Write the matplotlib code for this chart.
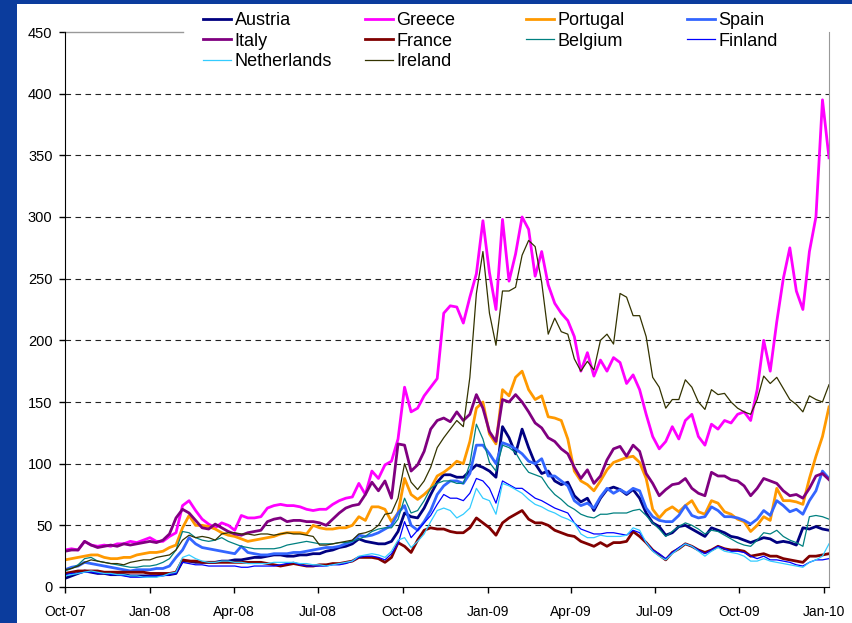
import matplotlib
matplotlib.use('Agg')
import matplotlib.pyplot as plt
import matplotlib.dates as mdates
from matplotlib.patches import Rectangle
import pandas as pd

plt.rcParams['font.family'] = ['Liberation Sans', 'DejaVu Sans']

# roughly weekly observations, 1 Oct 2007 to early Jan 2010
dates = pd.date_range('2007-10-01', '2010-01-06', periods=118)

austria = [7, 9, 11, 13, 12, 11, 11, 10, 10, 10,
           9, 9, 9, 9, 9, 10, 10, 11, 21, 21,
           20, 20, 20, 20, 21, 21, 22, 22, 23, 24,
           24, 25, 26, 26, 25, 25, 26, 26, 27, 27,
           29, 30, 32, 33, 35, 39, 37, 36, 35, 35,
           37, 45, 60, 57, 56, 64, 75, 85, 91, 91,
           89, 89, 94, 99, 97, 94, 89, 130, 121, 108,
           128, 113, 100, 92, 94, 86, 83, 85, 74, 69,
           72, 62, 72, 79, 81, 79, 75, 79, 72, 60,
           52, 49, 42, 44, 49, 50, 47, 44, 41, 48,
           46, 44, 41, 40, 38, 36, 38, 40, 39, 36,
           37, 36, 34, 48, 47, 49, 47, 46]

greece = [30, 31, 30, 37, 34, 33, 34, 33, 35, 35,
          37, 36, 38, 40, 37, 37, 41, 44, 66, 70,
          62, 55, 51, 48, 52, 50, 46, 58, 56, 56,
          57, 64, 66, 67, 66, 66, 65, 63, 62, 63,
          63, 67, 70, 72, 73, 84, 75, 94, 88, 99,
          102, 120, 162, 142, 145, 155, 162, 169, 222, 228,
          227, 214, 235, 254, 297, 255, 225, 298, 248, 270,
          300, 290, 252, 272, 245, 230, 222, 216, 203, 175,
          190, 171, 184, 175, 186, 182, 165, 172, 160, 140,
          122, 112, 118, 130, 120, 135, 140, 122, 115, 132,
          128, 135, 133, 140, 142, 135, 160, 200, 175, 215,
          250, 275, 240, 225, 272, 300, 395, 348]

portugal = [22, 23, 24, 25, 26, 26, 24, 23, 23, 24,
            24, 26, 27, 28, 28, 29, 32, 34, 48, 58,
            50, 50, 49, 47, 44, 42, 41, 39, 37, 38,
            39, 40, 41, 43, 44, 44, 44, 43, 50, 48,
            47, 47, 48, 48, 50, 57, 54, 65, 65, 63,
            53, 60, 88, 75, 71, 75, 80, 90, 93, 97,
            102, 100, 118, 145, 150, 124, 116, 160, 155, 170,
            175, 160, 152, 155, 138, 137, 135, 120, 94, 86,
            83, 78, 86, 95, 101, 103, 105, 106, 101, 88,
            63, 56, 62, 65, 61, 66, 70, 61, 59, 70,
            68, 61, 59, 55, 53, 45, 50, 57, 54, 80,
            70, 70, 69, 67, 88, 106, 122, 146]

spain = [14, 16, 17, 20, 19, 18, 17, 16, 15, 14,
         13, 14, 14, 14, 15, 15, 17, 24, 30, 40,
         35, 32, 31, 30, 29, 28, 27, 33, 28, 27,
         26, 26, 27, 27, 27, 28, 28, 29, 30, 31,
         32, 32, 33, 35, 37, 42, 41, 42, 44, 47,
         50, 60, 66, 50, 46, 53, 62, 75, 82, 86,
         86, 84, 92, 115, 115, 108, 100, 117, 115, 112,
         108, 102, 100, 104, 90, 90, 86, 82, 70, 66,
         68, 64, 73, 80, 76, 79, 76, 80, 78, 64,
         57, 54, 53, 53, 58, 66, 58, 56, 57, 65,
         62, 57, 57, 56, 54, 51, 55, 62, 58, 70,
         66, 61, 63, 59, 70, 78, 94, 88]

italy = [29, 30, 30, 37, 34, 32, 33, 34, 33, 35,
         34, 35, 36, 37, 36, 38, 43, 56, 63, 60,
         54, 48, 47, 51, 48, 45, 43, 42, 44, 45,
         46, 53, 55, 56, 53, 54, 54, 53, 53, 52,
         50, 55, 60, 64, 66, 67, 75, 85, 78, 86,
         72, 116, 115, 94, 99, 110, 128, 135, 137, 134,
         142, 135, 140, 156, 145, 126, 118, 152, 150, 156,
         150, 142, 133, 129, 121, 118, 112, 108, 97, 88,
         95, 84, 90, 103, 112, 114, 106, 115, 110, 92,
         84, 74, 79, 83, 84, 88, 80, 76, 74, 93,
         90, 90, 87, 86, 82, 74, 80, 88, 86, 84,
         78, 74, 75, 72, 80, 90, 92, 87]

france = [11, 12, 13, 13, 13, 13, 12, 12, 12, 12,
          12, 12, 12, 11, 11, 11, 11, 12, 22, 21,
          21, 20, 20, 20, 20, 20, 20, 20, 20, 20,
          20, 19, 18, 17, 18, 19, 18, 17, 17, 18,
          18, 19, 19, 20, 21, 24, 24, 24, 23, 20,
          24, 36, 33, 28, 38, 46, 48, 47, 47, 45,
          44, 44, 48, 56, 52, 48, 42, 52, 56, 59,
          62, 55, 52, 52, 50, 46, 44, 42, 41, 37,
          35, 33, 36, 33, 36, 36, 37, 45, 41, 36,
          30, 26, 22, 28, 31, 35, 33, 30, 28, 30,
          33, 31, 30, 30, 29, 25, 26, 27, 25, 25,
          23, 22, 21, 20, 25, 25, 26, 27]

belgium = [13, 15, 18, 23, 24, 21, 20, 19, 18, 17,
           16, 16, 17, 17, 18, 20, 23, 30, 45, 44,
           40, 38, 37, 38, 40, 37, 35, 33, 32, 31,
           31, 31, 31, 32, 34, 35, 36, 37, 36, 35,
           35, 35, 36, 36, 37, 39, 41, 45, 47, 48,
           48, 55, 72, 60, 62, 70, 80, 84, 86, 86,
           84, 84, 100, 132, 120, 101, 94, 115, 113, 109,
           100, 93, 91, 89, 81, 75, 71, 66, 63, 59,
           57, 56, 59, 59, 60, 60, 60, 62, 63, 58,
           52, 47, 41, 45, 49, 52, 50, 47, 43, 46,
           45, 42, 39, 36, 34, 33, 38, 44, 43, 46,
           41, 38, 36, 33, 57, 58, 57, 55]

finland = [10, 11, 11, 12, 12, 11, 11, 10, 10, 9,
           8, 8, 8, 9, 9, 9, 10, 11, 20, 19,
           18, 18, 17, 17, 17, 17, 17, 16, 16, 17,
           17, 17, 17, 18, 19, 20, 18, 17, 17, 17,
           17, 18, 18, 19, 21, 24, 25, 25, 24, 22,
           27, 35, 53, 40, 46, 52, 58, 67, 75, 72,
           72, 70, 76, 88, 86, 80, 68, 86, 83, 80,
           80, 76, 72, 70, 67, 64, 62, 60, 52, 47,
           45, 43, 43, 44, 44, 43, 42, 46, 44, 36,
           30, 27, 23, 28, 32, 35, 33, 30, 27, 30,
           33, 31, 29, 29, 28, 25, 23, 25, 22, 22,
           21, 20, 18, 17, 20, 22, 22, 23]

netherlands = [9, 10, 11, 12, 13, 12, 11, 11, 10, 10,
               9, 9, 8, 8, 8, 9, 11, 12, 24, 26,
               23, 21, 20, 20, 21, 21, 20, 20, 19, 19,
               19, 19, 20, 20, 20, 20, 19, 19, 18, 18,
               17, 18, 19, 20, 21, 25, 26, 27, 26, 24,
               29, 38, 40, 32, 37, 43, 53, 62, 64, 62,
               56, 59, 64, 80, 72, 70, 59, 84, 82, 79,
               76, 71, 67, 65, 62, 60, 57, 55, 52, 43,
               40, 40, 42, 41, 41, 41, 42, 48, 46, 36,
               29, 25, 22, 27, 31, 35, 33, 29, 25, 29,
               32, 29, 28, 27, 25, 21, 21, 23, 21, 20,
               19, 18, 17, 16, 20, 22, 25, 35]

ireland = [14, 15, 17, 20, 22, 21, 20, 19, 19, 18,
           20, 21, 22, 22, 24, 25, 26, 30, 38, 42,
           40, 41, 40, 38, 43, 44, 44, 43, 43, 42,
           43, 43, 42, 43, 44, 43, 43, 42, 41, 34,
           34, 35, 36, 37, 38, 43, 44, 46, 50, 59,
           60, 72, 100, 85, 79, 86, 97, 113, 121, 128,
           135, 130, 170, 238, 272, 222, 196, 240, 240, 243,
           269, 281, 276, 247, 205, 218, 207, 205, 185, 175,
           183, 176, 200, 205, 197, 238, 235, 220, 220, 203,
           170, 162, 145, 152, 152, 168, 162, 150, 144, 160,
           156, 157, 150, 145, 142, 140, 152, 171, 165, 170,
           161, 152, 148, 142, 155, 152, 150, 164]

names = ["Austria", "Greece", "Portugal", "Spain", "Italy",
         "France", "Belgium", "Finland", "Netherlands", "Ireland"]
values = [austria, greece, portugal, spain, italy,
          france, belgium, finland, netherlands, ireland]
colors = ['#000080', '#FF00FF', '#FF9900', '#3366FF', '#800080',
          '#800000', '#008080', '#0000FF', '#33CCFF', '#333300']
widths = [2.0, 2.0, 2.0, 2.0, 2.0, 2.0, 0.9, 0.9, 0.9, 0.9]

yticks = list(range(0, 451, 50))

W, H = 852, 623
fig = plt.figure(figsize=(W / 100, H / 100), dpi=100)
fig.patch.set_facecolor('#0b3c9d')
fig.add_artist(Rectangle((17 / W, 0), 1 - 17 / W, 1 - 4 / H,
                         transform=fig.transFigure, facecolor='white',
                         edgecolor='none', zorder=-5))

ax = fig.add_axes([65 / W, 1 - 587 / H, (829 - 65) / W, (587 - 32) / H])
ax.set_facecolor('white')

for v in yticks[1:-1]:
    ax.axhline(v, color='#222222', lw=0.8, ls=(0, (5, 4)), zorder=0.5)

lines = {}
for n, vals, c, w in zip(names, values, colors, widths):
    ln, = ax.plot(dates, vals, color=c, lw=w, label=n, zorder=2,
                  solid_joinstyle='round')
    lines[n] = ln

ax.set_ylim(0, 450)
ax.set_yticks(yticks)
ax.set_xlim(pd.Timestamp('2007-10-01'), pd.Timestamp('2010-01-06'))
ax.xaxis.set_major_locator(mdates.MonthLocator(bymonth=[1, 4, 7, 10]))
ax.xaxis.set_major_formatter(mdates.DateFormatter('%b-%y'))

ax.spines['top'].set_visible(False)
ax.spines['right'].set_color('#999999')
ax.spines['left'].set_color('black')
ax.spines['bottom'].set_color('black')
ax.plot([0, (183 - 65) / (829 - 65)], [1, 1], transform=ax.transAxes,
        color='#999999', lw=1, clip_on=False)

ax.tick_params(axis='y', direction='out', length=4, width=1,
               labelsize=10.5, pad=5)
ax.tick_params(axis='x', direction='out', length=4, width=1,
               labelsize=10, pad=9)

cols = [["Austria", "Italy", "Netherlands"],
        ["Greece", "France", "Ireland"],
        ["Portugal", "Belgium"],
        ["Spain", "Finland"]]
xs = [203, 365, 526, 687]
for col, x in zip(cols, xs):
    fig.legend([lines[n] for n in col], col, loc='upper left',
               bbox_to_anchor=(x / W, 1 - 12 / H), frameon=False,
               fontsize=13, handlelength=1.55, handletextpad=0.2,
               labelspacing=0.2, borderpad=0, borderaxespad=0)

fig.savefig('out.png', dpi=100, facecolor=fig.get_facecolor())
